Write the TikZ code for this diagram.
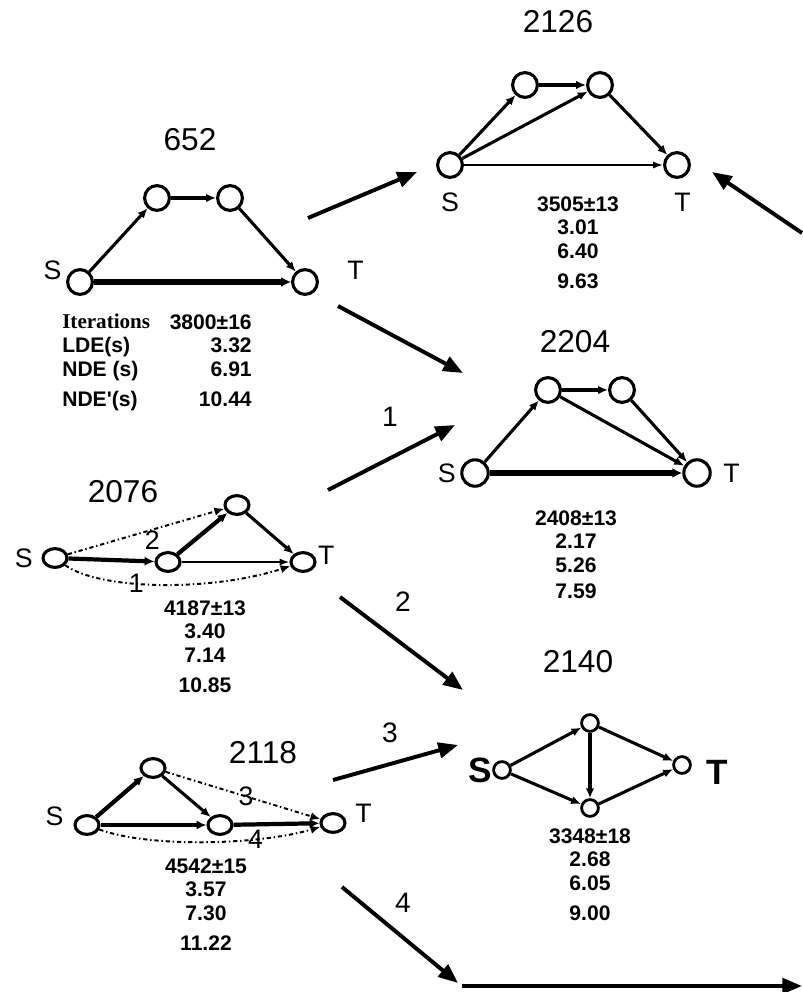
\documentclass[tikz,border=0pt]{standalone}
\usepackage{fontspec}
\setmainfont{Liberation Sans}
\newfontfamily\serifbold{Liberation Serif}
\usetikzlibrary{arrows.meta, positioning, shapes.geometric}

\begin{document}
\begin{tikzpicture}[
  x=0.025cm, y=-0.025cm,
  vtx/.style = {circle, draw, line width=2.2pt, minimum size=0.62cm, inner sep=0pt},
  svtx/.style = {ellipse, draw, line width=2.2pt, minimum width=0.6cm, minimum height=0.47cm, inner sep=0pt},
  tvtx/.style = {circle, draw, line width=2pt, minimum size=0.42cm, inner sep=0pt},
  link/.style = {-{Latex[length=7pt,width=6pt]}, line width=2.2pt},
  heavy/.style = {-{Latex[length=7pt,width=7pt]}, line width=4.5pt},
  strong/.style = {-{Latex[length=7pt,width=6.5pt]}, line width=3pt},
  light/.style = {-{Latex[length=7pt,width=5pt]}, line width=1.2pt},
  dlink/.style = {-{Latex[length=7pt,width=6pt]}, line width=1.4pt,
                  dash pattern=on 3pt off 2pt on 1pt off 2pt},
  bigarr/.style = {-{Triangle[length=14pt,width=11pt]}, line width=2.8pt},
  title/.style = {inner sep=0pt, font=\fontsize{22.5}{22.5}\selectfont},
  lbl/.style = {inner sep=0pt, font=\fontsize{19}{19}\selectfont},
  blbl/.style = {inner sep=0pt, font=\fontsize{25}{25}\selectfont\bfseries},
  num/.style = {inner sep=0pt, font=\fontsize{20}{20}\selectfont},
  pathnum/.style = {inner sep=0pt, font=\fontsize{19}{19}\selectfont},
  stats/.style = {anchor=north, inner sep=0pt, align=center,
                  font=\fontsize{15}{17}\selectfont\bfseries},
]
  \useasboundingbox (0,0) rectangle (802,992);

  % 652
  \node[title] (h1) at (190,140) {652};
  \node[vtx] (s1) at (80,282)  {};
  \node[vtx] (a1) at (157,198) {};
  \node[vtx] (b1) at (230,198) {};
  \node[vtx] (t1) at (305,282) {};
  \node[lbl, left=3pt of s1, yshift=8pt]   (s1l) {S};
  \node[lbl, right=20pt of t1, yshift=8pt] (t1l) {T};
  \draw[link]  (s1) -- (a1);
  \draw[link]  (a1) -- (b1);
  \draw[link]  (b1) -- (t1);
  \draw[heavy] (s1) -- (t1);
  \node[anchor=north west, inner sep=0pt, align=left,
        font=\fontsize{15}{17}\selectfont\bfseries] (k1) at (62,314)
        {{\serifbold Iterations}\\ LDE(s)\\ NDE (s)\\[4pt] NDE\textquotesingle(s)};
  \node[anchor=north east, inner sep=0pt, align=right,
        font=\fontsize{15}{17}\selectfont\bfseries] (v1) at (252,314)
        {3800±16\\ 3.32\\ 6.91\\[4pt] 10.44};

  % 2126
  \node[title] (h2) at (558,22) {2126};
  \node[vtx] (s2) at (450,165) {};
  \node[vtx] (a2) at (525,85)  {};
  \node[vtx] (b2) at (600,85)  {};
  \node[vtx] (t2) at (677,165) {};
  \node[lbl, below=10pt of s2] (s2l) {S};
  \node[lbl, below=10pt of t2, xshift=4pt] (t2l) {T};
  \draw[link]  (s2) -- (a2);
  \draw[link]  (a2) -- (b2);
  \draw[link]  (s2) -- (b2);
  \draw[link]  (b2) -- (t2);
  \draw[light] (s2) -- (t2);
  \node[stats] (v2) at (578,196) {3505±13\\ 3.01\\ 6.40\\[4pt] 9.63};

  % 2204
  \node[title] (h4) at (575,342) {2204};
  \node[vtx, minimum size=0.66cm] (s4) at (475,473) {};
  \node[vtx] (a4) at (548,390) {};
  \node[vtx] (b4) at (622,390) {};
  \node[vtx, minimum size=0.66cm] (t4) at (697,473) {};
  \node[lbl, left=3pt of s4]  (s4l) {S};
  \node[lbl, right=8pt of t4] (t4l) {T};
  \draw[link]  (s4) -- (a4);
  \draw[link]  (a4) -- (b4);
  \draw[link]  (a4) -- (t4);
  \draw[link]  (b4) -- (t4);
  \draw[heavy] (s4) -- (t4);
  \node[stats] (v4) at (576,510) {2408±13\\ 2.17\\ 5.26\\[1pt] 7.59};

  % 2076
  \node[title] (h3) at (123,492) {2076};
  \node[svtx] (s3) at (55,558)  {};
  \node[svtx] (a3) at (237,505) {};
  \node[svtx] (m3) at (168,562) {};
  \node[svtx] (t3) at (303,562) {};
  \node[lbl, left=6pt of s3]               (s3l) {S};
  \node[lbl, right=1pt of t3, yshift=5pt]  (t3l) {T};
  \draw[strong] (s3) -- (m3);
  \draw[strong] (m3) -- (a3);
  \draw[link]   (a3) -- (t3);
  \draw[light]  (m3) -- (t3);
  \draw[dlink]  (s3) -- node[pathnum, pos=0.54, below] (d2) {2} (a3);
  \draw[dlink]  (s3) .. controls (100,590) and (210,592) .. node[pathnum, pos=0.4] (d1) {1} (t3);
  \node[stats] (v3) at (205,600) {4187±13\\ 3.40\\ 7.14\\[4pt] 10.85};

  % 2118
  \node[title] (h5) at (263,753) {2118};
  \node[svtx] (s5) at (87,825)  {};
  \node[svtx] (a5) at (153,768) {};
  \node[svtx] (m5) at (220,825) {};
  \node[svtx] (t5) at (333,823) {};
  \node[lbl, left=7pt of s5, yshift=6pt]  (s5l) {S};
  \node[lbl, right=6pt of t5, yshift=7pt] (t5l) {T};
  \draw[strong] (s5) -- (a5);
  \draw[link]   (a5) -- (m5);
  \draw[strong] (s5) -- (m5);
  \draw[strong] (m5) -- (t5);
  \draw[dlink]  (a5) -- node[pathnum, pos=0.52] (d3) {3} (t5);
  \draw[dlink]  (s5) .. controls (150,848) and (260,845) .. node[pathnum, pos=0.7] (d4) {4} (t5);
  \node[stats] (v5) at (206,858) {4542±15\\ 3.57\\ 7.30\\[4pt] 11.22};

  % 2140
  \node[title] (h6) at (578,662) {2140};
  \node[tvtx] (s6) at (502,770) {};
  \node[tvtx] (a6) at (590,723) {};
  \node[tvtx] (b6) at (590,808) {};
  \node[tvtx] (t6) at (682,765) {};
  \node[blbl, left=0pt of s6]                (s6l) {S};
  \node[blbl, right=10pt of t6, yshift=-5pt] (t6l) {T};
  \draw[link] (s6) -- (a6);
  \draw[link] (s6) -- (b6);
  \draw[link] (a6) -- (b6);
  \draw[link] (a6) -- (t6);
  \draw[link] (b6) -- (t6);
  \node[stats] (v6) at (590,828) {3348±18\\ 2.68\\ 6.05\\[4pt] 9.00};

  % transitions
  \coordinate (p1) at (308,218); \coordinate (q1) at (417,172);
  \coordinate (p2) at (338,306); \coordinate (q2) at (463,373);
  \coordinate (p3) at (328,490); \coordinate (q3) at (455,425);
  \coordinate (p4) at (340,597); \coordinate (q4) at (463,690);
  \coordinate (p5) at (333,780); \coordinate (q5) at (458,745);
  \coordinate (p6) at (342,887); \coordinate (q6) at (458,983);
  \coordinate (p7) at (462,986); \coordinate (q7) at (802,986);
  \coordinate (p8) at (802,233); \coordinate (q8) at (712,172);
  \draw[bigarr] (p1) -- (q1);
  \draw[bigarr] (p2) -- (q2);
  \draw[bigarr] (p3) -- (q3);
  \draw[bigarr] (p4) -- (q4);
  \draw[bigarr] (p5) -- (q5);
  \draw[bigarr] (p6) -- (q6);
  \draw[bigarr] (p7) -- (q7);
  \draw[bigarr] (p8) -- (q8);
  \node[num] (n1) at (390,417) {1};
  \node[num] (n2) at (403,602) {2};
  \node[num] (n3) at (390,733) {3};
  \node[num] (n4) at (403,903) {4};
\end{tikzpicture}
\end{document}
